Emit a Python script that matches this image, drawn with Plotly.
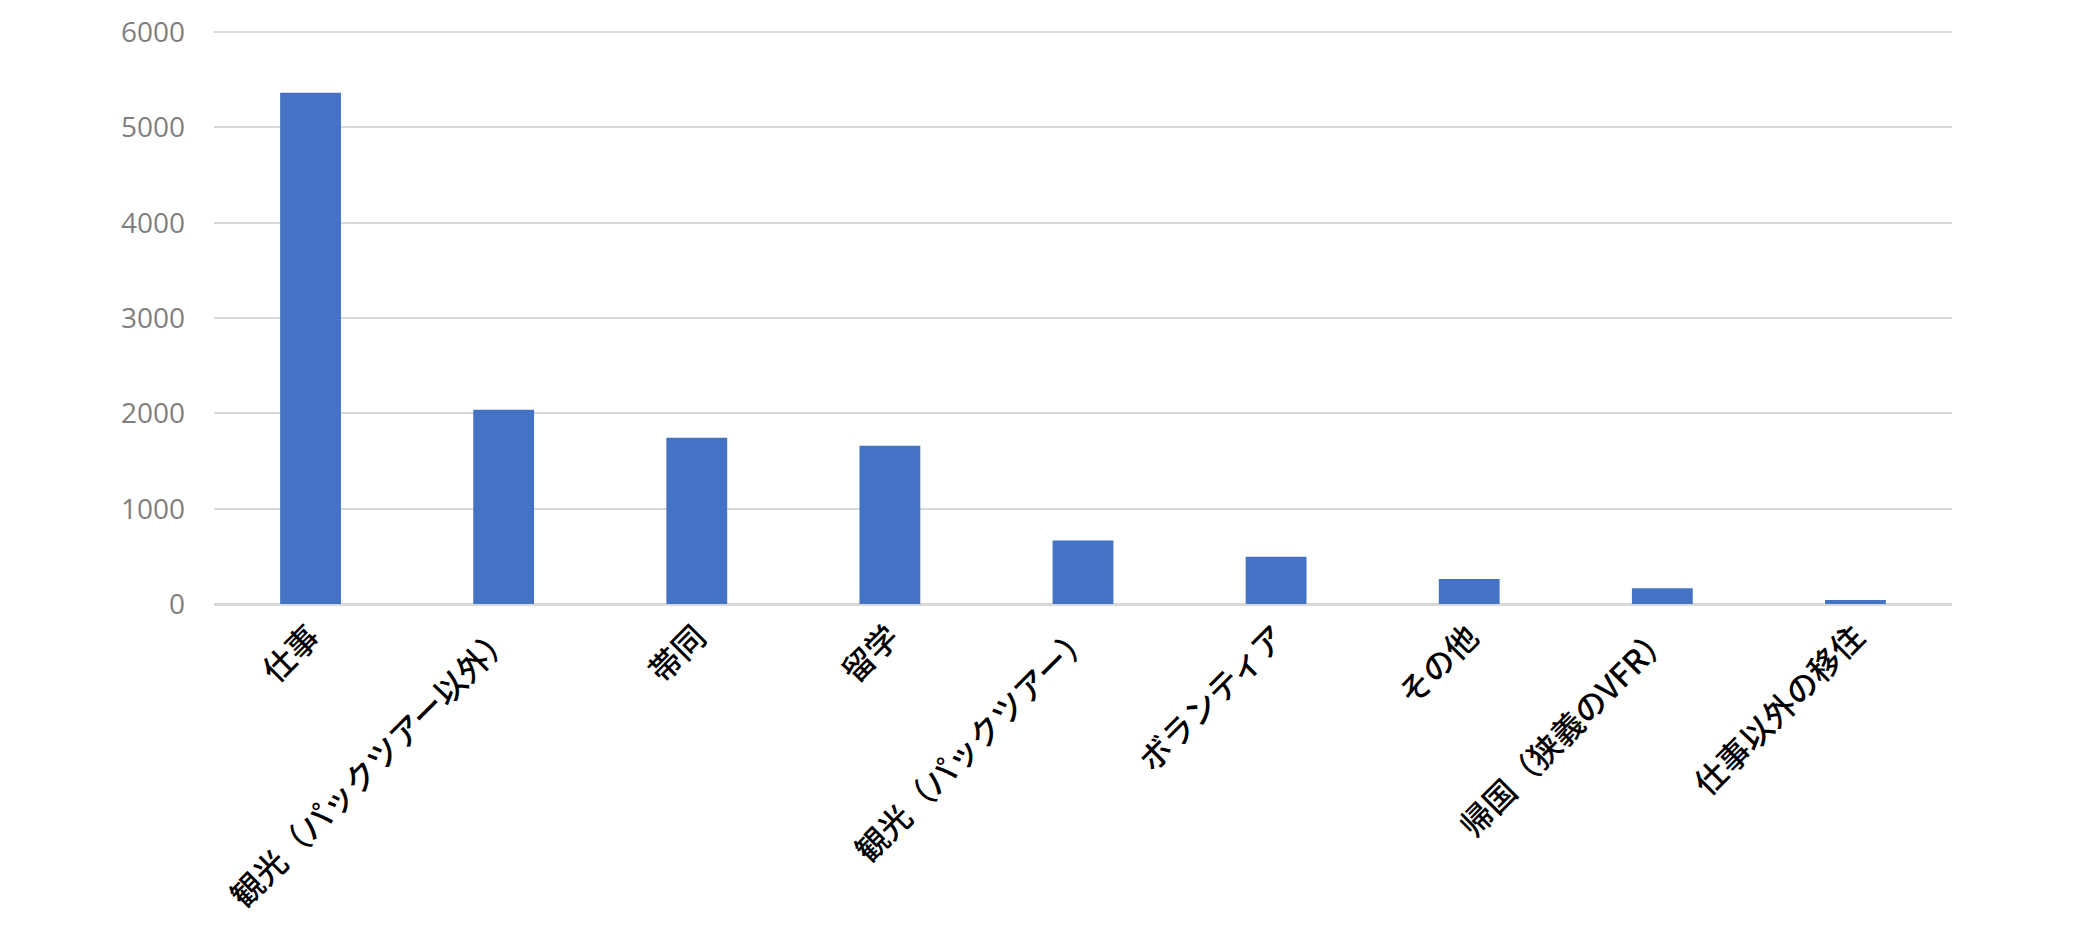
import plotly.graph_objects as go

categories = ["仕事", "観光（パックツアー以外）", "帯同", "留学", "観光（パックツアー）",
              "ボランティア", "その他", "帰国（狭義のVFR）", "仕事以外の移住"]
values = [5365, 2038, 1745, 1661, 665, 495, 263, 165, 42]
y_ticks = [0, 1000, 2000, 3000, 4000, 5000, 6000]

fig = go.Figure(go.Bar(
    x=categories, y=values,
    marker=dict(color="#4472C4", line=dict(width=0)),
    width=0.315,
))

fig.update_layout(
    width=2084, height=938,
    margin=dict(l=206, r=140, t=23, b=342),
    paper_bgcolor="white", plot_bgcolor="white",
    showlegend=False,
    font=dict(family="Noto Sans CJK JP"),
)
fig.update_xaxes(
    range=[-0.5, 8.5], tickangle=-45, automargin=False,
    tickfont=dict(size=32, color="#000000", family="Noto Sans CJK JP", weight=500),
    showline=True, linecolor="#D9D9D9", linewidth=1.5,
    ticks="", showgrid=False,
)
fig.update_yaxes(
    range=[0, 6012], tickvals=y_ticks, automargin=False,
    tickfont=dict(size=28, color="#7F7F7F", family="Open Sans"),
    showgrid=True, gridcolor="#D9D9D9", gridwidth=1.5,
    zeroline=True, zerolinecolor="#D9D9D9", zerolinewidth=1.5,
    ticks="", ticklabelstandoff=28,
)

fig.write_html("out.html")
